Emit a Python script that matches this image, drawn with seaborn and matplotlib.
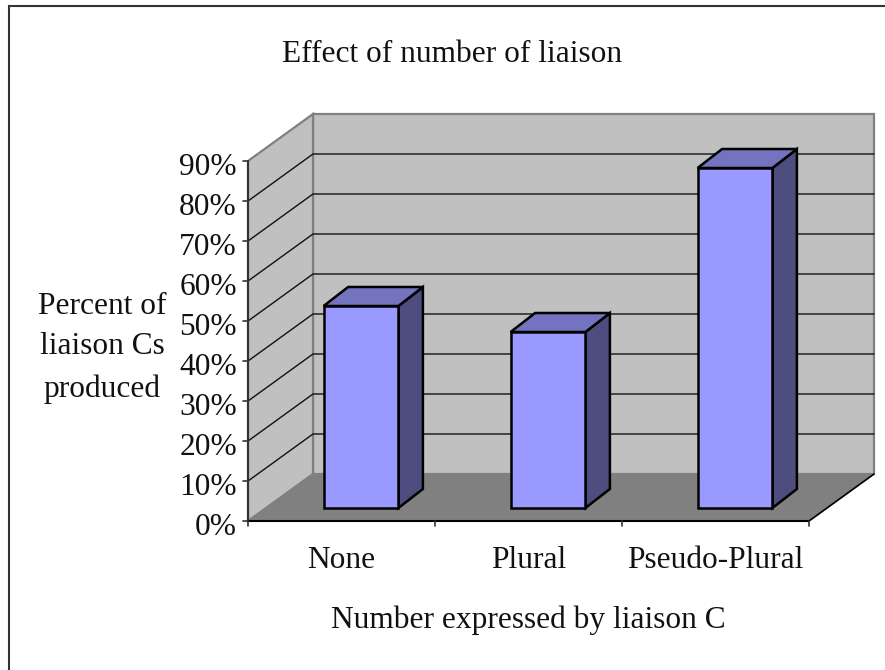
import matplotlib
matplotlib.use("Agg")
import matplotlib.pyplot as plt
import pandas as pd
import seaborn as sns
from matplotlib.patches import Polygon, Rectangle

# values
categories = ["None", "Plural", "Pseudo-Plural"]
percent = [50.5, 44, 85]
y_ticks = [0, 10, 20, 30, 40, 50, 60, 70, 80, 90]

# px scale of the chart
W, H = 885, 670
CAT_PX = 187.0
PCT_PX = 4.0
X0_PX = 361.0
Y0_PX = 508.0
FONT = 22.6


def shift(x, y, dx_px, dy_px):
    # move a data point by some pixels (dy up)
    return x + dx_px / CAT_PX, y + dy_px / PCT_PX


sns.set_theme(style="white")
plt.rcParams["font.family"] = ["Liberation Serif", "DejaVu Serif"]

fig = plt.figure(figsize=(W / 100, H / 100), dpi=100)
ax = fig.add_axes([0, 0, 1, 1])

df = pd.DataFrame({"cat": categories, "pct": percent})
sns.barplot(data=df, x="cat", y="pct", color="#9999FF", saturation=1, width=0.4,
            edgecolor="black", linewidth=1.8, ax=ax, zorder=5)

ax.set_xlim(-X0_PX / CAT_PX, (W - X0_PX) / CAT_PX)
ax.set_ylim((Y0_PX - H) / PCT_PX, Y0_PX / PCT_PX)
ax.axis("off")

# corners of the box
front_l = (248 - X0_PX) / CAT_PX
front_r = front_l + 3
front_y = -13 / PCT_PX  # front 0% line sits below the bar base
top = 90
back = (65, 47)


def fr(x, v):
    return (x, front_y + v)


def bk(x, v):
    return shift(x, front_y + v, *back)


wall_grey = "#C0C0C0"
line_grey = "#808080"
# back wall
ax.add_patch(Polygon([bk(front_l, 0), bk(front_r, 0), bk(front_r, top), bk(front_l, top)],
                     fc=wall_grey, ec=line_grey, lw=1.6, zorder=1))
# side wall
ax.add_patch(Polygon([fr(front_l, 0), bk(front_l, 0), bk(front_l, top), fr(front_l, top)],
                     fc=wall_grey, ec=line_grey, lw=1.6, zorder=1))
# floor
ax.add_patch(Polygon([fr(front_l, 0), fr(front_r, 0), bk(front_r, 0), bk(front_l, 0)],
                     fc="#808080", ec=line_grey, lw=1, zorder=2))

# gridlines
for v in y_ticks[1:-1]:
    pts = [fr(front_l, v), bk(front_l, v), bk(front_r, v)]
    ax.plot([p[0] for p in pts], [p[1] for p in pts], color="#111111", lw=1, zorder=3,
            solid_joinstyle="miter")

# axis lines
ax.plot([front_l, front_l], [front_y, front_y + top], color="#333333", lw=1.5, zorder=4)
ax.plot([front_l, front_r], [front_y, front_y], color="black", lw=1.5, zorder=4)
p = bk(front_r, 0)
ax.plot([front_r, p[0]], [front_y, p[1]], color="black", lw=1.2, zorder=4)

# ticks
for v in y_ticks:
    ax.plot([front_l - 5 / CAT_PX, front_l], [front_y + v, front_y + v], color="#333333", lw=1.2, zorder=4)
    ax.text(front_l - 11 / CAT_PX, front_y + v - 1.7, f"{v}%", ha="right", va="center",
            fontsize=FONT, color="#111111")
for i in range(4):
    ax.plot([front_l + i, front_l + i], [front_y, front_y - 5 / PCT_PX], color="#333333", lw=1.2, zorder=4)

for i, c in enumerate(categories):
    ax.text(front_l + i + 0.5, (Y0_PX - 561) / PCT_PX, c, ha="center", va="center",
            fontsize=FONT, color="#111111")

# 3d faces of the bars, taken from the bars themselves
bar_d = (24.5, 19)
for bar in ax.patches:
    if not isinstance(bar, Rectangle) or bar.get_facecolor()[2] < 0.9 or bar.get_width() > 1:
        continue
    x0, x1 = bar.get_x(), bar.get_x() + bar.get_width()
    h = bar.get_height()
    side = [(x1, 0), shift(x1, 0, *bar_d), shift(x1, h, *bar_d), (x1, h)]
    cap = [(x0, h), (x1, h), shift(x1, h, *bar_d), shift(x0, h, *bar_d)]
    ax.add_patch(Polygon(side, fc="#4D4D80", ec="black", lw=1.8, zorder=4.5, joinstyle="miter"))
    ax.add_patch(Polygon(cap, fc="#7373BF", ec="black", lw=1.8, zorder=4.5, joinstyle="miter"))

# titles
def label(xp, yp, s):
    ax.text((xp - X0_PX) / CAT_PX, (Y0_PX - yp) / PCT_PX, s, ha="center", va="center",
            fontsize=FONT, color="#111111")


label(452, 54, "Effect of number of liaison")
label(528, 620, "Number expressed by liaison C")
label(102, 306, "Percent of")
label(102, 347, "liaison Cs")
label(102, 389, "produced")

# outer frame of the slide
fig.add_artist(Rectangle((9 / W, -0.01), (W - 9) / W + 0.01, 1 - 6 / H + 0.01,
                         transform=fig.transFigure, fill=False, ec="#333333", lw=1.5))

fig.savefig("out.png", dpi=100)
